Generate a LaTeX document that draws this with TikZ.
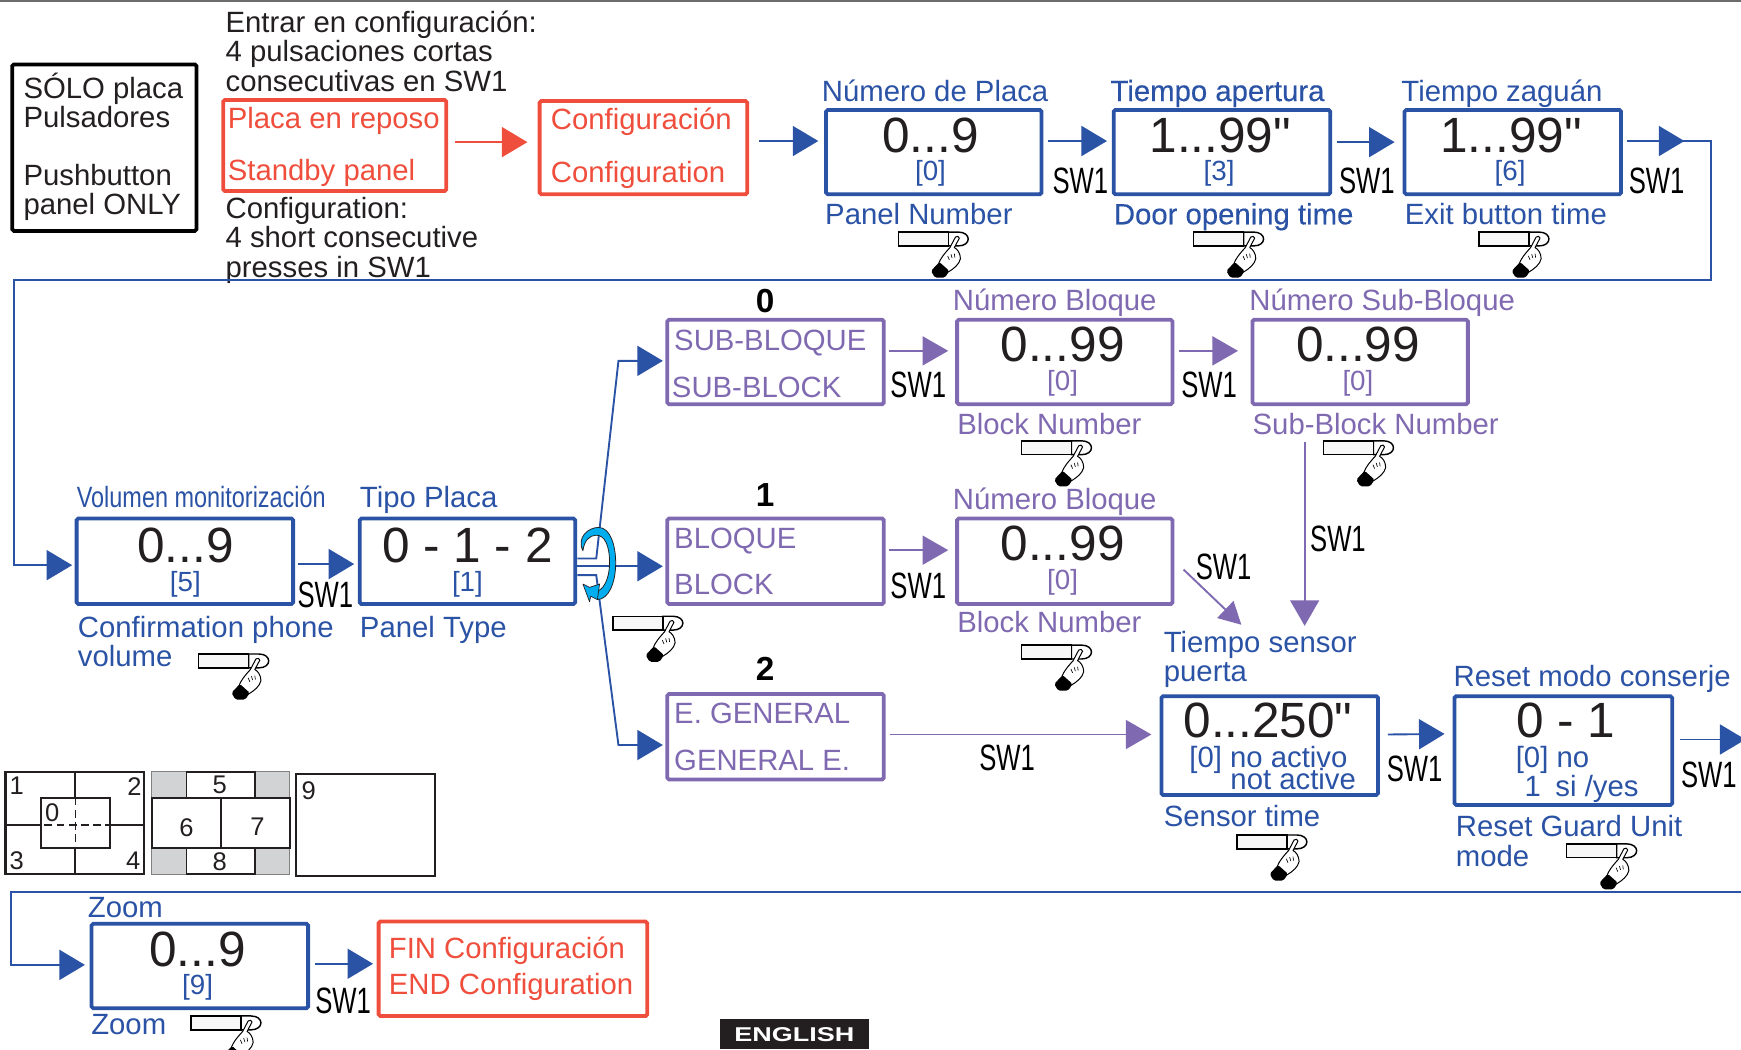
\documentclass[tikz,border=0pt]{standalone}
\usepackage{fontspec}
\setmainfont[Ligatures=TeXOff]{Liberation Sans}
\newfontfamily\swfont[FakeStretch=0.70]{Liberation Sans}
\newfontfamily\volfont[FakeStretch=0.80]{Liberation Sans}
\newfontfamily\engfont[FakeStretch=1.35]{Liberation Sans}
\newfontfamily\semibf[FakeBold=0.35]{Liberation Sans}
\usetikzlibrary{arrows.meta,calc}
\definecolor{bl}{HTML}{2A52A5}
\definecolor{rd}{HTML}{F04E3C}
\definecolor{pu}{HTML}{7F69B0}
\definecolor{cy}{HTML}{00AEEF}
\definecolor{ink}{HTML}{231F20}
\definecolor{gc}{HTML}{D1D3D4}
\tikzset{
 lbl/.style={anchor=base west,inner sep=0pt,font=\fontsize{26.4}{26.4}\selectfont},
 tbl/.style={lbl,text=bl},
 tpu/.style={lbl,text=pu},
 trd/.style={lbl,text=rd},
 tbk/.style={lbl,text=ink},
 big/.style={anchor=base,inner sep=0pt,text=ink,font=\fontsize{44.6}{44.6}\selectfont},
 def/.style={anchor=base,inner sep=0pt,font=\fontsize{25}{25}\selectfont},
 sw/.style={anchor=base,inner sep=0pt,text=black,font=\swfont\fontsize{33}{33}\selectfont},
 hd/.style={anchor=base,inner sep=0pt,text=black,font=\bfseries\fontsize{30}{30}\selectfont},
 scr/.style={anchor=center,inner sep=0pt,text=ink,font=\fontsize{23}{23}\selectfont},
 box/.style={draw,rectangle,rounded corners=1.5pt,line width=3.4pt,inner sep=0pt,outer sep=0pt},
 bbox/.style={box,draw=bl},
 pbox/.style={box,draw=pu},
 rbox/.style={box,draw=rd},
 ba/.style={draw=bl,line width=1.7pt,-{Triangle[length=23pt,width=27pt,color=bl]}},
 pa/.style={draw=pu,line width=1.7pt,-{Triangle[length=23pt,width=26pt,color=pu]}},
 ra/.style={draw=rd,line width=1.7pt,-{Triangle[length=23pt,width=27pt,color=rd]}},
 scrl/.style={draw=ink,line width=1.7pt},
 pushbtn/.pic={
  \draw[line width=1.3pt,fill=white] (45,0) -- (54,0) .. controls (66,0) and (66,12.5) .. (54,12.5) -- (45,12.5) -- cycle;
  \draw[line width=1.3pt,fill=gc!18] (0,0) rectangle (45,12.5);
  \draw[line width=.9pt,fill=white,line join=round] (51.5,4.5) .. controls (52.5,3.5) and (55,3.5) .. (55,5.5)
     -- (50.5,14) .. controls (53,15) and (56,19) .. (56,24) .. controls (55,29) and (50,33) .. (45,36)
     -- (36.5,28) .. controls (38,24) and (41,20) .. (46.5,14) -- cycle;
  \fill[black,rounded corners=1.5pt] (37,27) -- (46,35) -- (42,41) -- (33,41) -- (29.5,35) -- cycle;
  \draw[line width=.6pt] (47.5,20) -- (48.5,23.5) (50.5,19.5) -- (51,23) (44.5,21.5) -- (46,25);
 }
}
\begin{document}
\begin{tikzpicture}[x=1pt,y=-1pt]
\useasboundingbox (0,0) rectangle (1568,945);
\clip (0,0) rectangle (1568,945);
\fill[gray!85!black] (0,0) rectangle (1568,2);

% --- boxes
\node[box,draw=black,minimum width=166pt,minimum height=150pt] (only) at (94,133) {};
\node[rbox,minimum width=201pt,minimum height=82pt] (rest) at (301.5,131) {};
\node[rbox,minimum width=187pt,minimum height=84pt] (cfg) at (579.5,133) {};
\node[bbox,minimum width=194pt,minimum height=76pt] (n1) at (841,137) {};
\node[bbox,minimum width=195pt,minimum height=76pt] (n2) at (1100.5,137) {};
\node[bbox,minimum width=195pt,minimum height=76pt] (n3) at (1362.5,137) {};
\node[pbox,minimum width=195pt,minimum height=76pt] (sb) at (698.5,326) {};
\node[pbox,minimum width=194pt,minimum height=76pt] (b0) at (959,326) {};
\node[pbox,minimum width=194pt,minimum height=76pt] (sb0) at (1225,326) {};
\node[pbox,minimum width=195pt,minimum height=77pt] (bq) at (698.5,505.5) {};
\node[pbox,minimum width=194pt,minimum height=77pt] (b1) at (959,505.5) {};
\node[pbox,minimum width=195pt,minimum height=77pt] (eg) at (698.5,663.5) {};
\node[bbox,minimum width=195pt,minimum height=77pt] (vol) at (166.5,505.5) {};
\node[bbox,minimum width=194pt,minimum height=77pt] (tp) at (421,505.5) {};
\node[bbox,minimum width=195pt,minimum height=89pt] (sen) at (1143.5,671.5) {};
\node[bbox,minimum width=196pt,minimum height=98pt] (rs) at (1408,676) {};
\node[bbox,minimum width=195pt,minimum height=76pt] (zm) at (180,870) {};
\node[rbox,minimum width=242pt,minimum height=85pt] (fin) at (462,872.5) {};

% --- texts
\node[tbk] (t1) at (203,29) {Entrar en configuración:};
\node[tbk] (t2) at (203,55) {4 pulsaciones cortas};
\node[tbk] (t3) at (203,82) {consecutivas en SW1};
\node[tbk] (t4) at (203,197) {Configuration:};
\node[tbk] (t5) at (203,223) {4 short consecutive};
\node[tbk] (t6) at (203,250) {presses in SW1};
\node[tbk] (o1) at (21,89) {SÓLO placa};
\node[tbk] (o2) at (21,115) {Pulsadores};
\node[tbk] (o3) at (21,167) {Pushbutton};
\node[tbk] (o4) at (21,193) {panel ONLY};
\node[trd] (r1) at (205,116) {Placa en reposo};
\node[trd] (r2) at (205,163) {Standby panel};
\node[trd] (c1t) at (496,117) {Configuración};
\node[trd] (c2t) at (496,164) {Configuration};

\node[tbl] (n1a) at (740,91) {Número de Placa};
\node[tbl,font=\semibf\fontsize{26.4}{26.4}\selectfont] (n2a) at (1000,91) {Tiempo apertura};
\node[tbl] (n3a) at (1262,91) {Tiempo zaguán};
\node[tbl] (n1b) at (743,202) {Panel Number};
\node[tbl,font=\semibf\fontsize{26.4}{26.4}\selectfont] (n2b) at (1003,202) {Door opening time};
\node[tbl] (n3b) at (1265,202) {Exit button time};
\node[big] (n1v) at (838,137) {0...9};
\node[big] (n2v) at (1099,137) {1...99"};
\node[big] (n3v) at (1361,137) {1...99"};
\node[def,text=bl] (n1d) at (838,163) {[0]};
\node[def,text=bl] (n2d) at (1098,163) {[3]};
\node[def,text=bl] (n3d) at (1360,163) {[6]};

\node[hd] (h0) at (689,281) {0};
\node[hd] (h1) at (689,456) {1};
\node[hd] (h2) at (689,613) {2};
\node[tpu] (sb1) at (607,316) {SUB-BLOQUE};
\node[tpu] (sb2) at (605,358) {SUB-BLOCK};
\node[tpu] (bq1) at (607,494) {BLOQUE};
\node[tpu] (bq2) at (607,535) {BLOCK};
\node[tpu] (eg1) at (607,652) {E. GENERAL};
\node[tpu] (eg2) at (607,694) {GENERAL E.};
\node[tpu] (b0a) at (858,280) {Número Bloque};
\node[tpu] (sb0a) at (1125,280) {Número Sub-Bloque};
\node[tpu] (b0b) at (862,391) {Block Number};
\node[tpu] (sb0b) at (1128,391) {Sub-Block Number};
\node[tpu] (b1a) at (858,459) {Número Bloque};
\node[tpu] (b1b) at (862,570) {Block Number};
\node[big] (b0v) at (957,326) {0...99};
\node[big] (sb0v) at (1223,326) {0...99};
\node[big] (b1v) at (957,505) {0...99};
\node[def,text=pu] (b0d) at (957,352) {[0]};
\node[def,text=pu] (sb0d) at (1223,352) {[0]};
\node[def,text=pu] (b1d) at (957,531) {[0]};

\node[lbl,text=bl,font=\volfont\fontsize{26.4}{26.4}\selectfont] (vola) at (69,457) {Volumen monitorización};
\node[tbl] (volb) at (70,574) {Confirmation phone};
\node[tbl] (volc) at (70,600) {volume};
\node[tbl] (tpa) at (324,457) {Tipo Placa};
\node[tbl] (tpb) at (324,574) {Panel Type};
\node[big] (volv) at (167,507) {0...9};
\node[big] (tpv) at (421,507) {0 - 1 - 2};
\node[def,text=bl] (vold) at (167,533) {[5]};
\node[def,text=bl] (tpd) at (421,533) {[1]};

\node[tbl] (sena) at (1048,588) {Tiempo sensor};
\node[tbl] (senb) at (1048,614) {puerta};
\node[big] (senv) at (1142,664) {0...250"};
\node[lbl,text=bl] (send) at (1071,691) {[0] no activo};
\node[lbl,text=bl] (sene) at (1108,711) {not active};
\node[tbl] (senc) at (1048,744) {Sensor time};
\node[tbl] (rsa) at (1309,618) {Reset modo conserje};
\node[big] (rsv) at (1410,664) {0 - 1};
\node[lbl,text=bl] (rsd) at (1365,691) {[0] no};
\node[lbl,text=bl] (rse) at (1373,717) {1\hspace{13pt}si /yes};
\node[tbl] (rsb) at (1311,753) {Reset Guard Unit};
\node[tbl] (rsc) at (1311,780) {mode};

\node[tbl] (zma) at (79,826) {Zoom};
\node[tbl] (zmb) at (82,932) {Zoom};
\node[big] (zmv) at (178,870) {0...9};
\node[def,text=bl] (zmd) at (178,896) {[9]};
\node[trd] (f1) at (350,863) {FIN Configuración};
\node[trd] (f2) at (350,896) {END Configuration};

\node[sw] (s1) at (973,174) {SW1};
\node[sw] (s2) at (1231,174) {SW1};
\node[sw] (s3) at (1492,174) {SW1};
\node[sw] (s4) at (827,358) {SW1};
\node[sw] (s5) at (1089,358) {SW1};
\node[sw] (s6) at (293,547) {SW1};
\node[sw] (s7) at (827,539) {SW1};
\node[sw] (s8) at (1102,522) {SW1};
\node[sw] (s9) at (1205,497) {SW1};
\node[sw] (s10) at (907,694) {SW1};
\node[sw] (s11) at (1274,704) {SW1};
\node[sw] (s12) at (1539,709) {SW1};
\node[sw] (s13) at (309,913) {SW1};

\node[fill=ink,text=white,inner sep=0pt,minimum width=135pt,minimum height=27pt,font=\engfont\bfseries\fontsize{18}{18}\selectfont] (eng) at (715.5,931.5) {ENGLISH};

% --- connectors
\draw[ra] ($(rest.east)+(8,-3)$) -- ($(cfg.west)+(-11,-5)$);
\draw[ba] ($(cfg.east)+(11,-6)$) -- ($(n1.west)+(-7,-10)$);
\draw[ba] ($(n1.east)+(6,-10)$) -- ($(n2.west)+(-6,-10)$);
\draw[ba] ($(n2.east)+(6,-9)$) -- ($(n3.west)+(-9,-9)$);
\coordinate (w1) at (1541,127);
\coordinate (w2) at (1541,252);
\coordinate (w3) at (13,252);
\coordinate (w4) at (13,509);
\draw[ba] ($(n3.east)+(5,-10)$) -- ($(n3.east)+(57,-10)$);
\draw[ba] ($(n3.east)+(50,-10)$) -- (w1) -- (w2) -- (w3) -- (w4) -- ($(vol.west)+(-4,3.5)$);
\draw[ba] ($(vol.east)+(4,2.5)$) -- ($(tp.west)+(-5,2.5)$);

\coordinate (f0) at (520,503);
\coordinate (f1k) at (537,503);
\coordinate (f2k) at (557,325);
\coordinate (g0) at (520,518);
\coordinate (g1) at (537,518);
\coordinate (g2) at (557,671);
\draw[ba] (f0) -- (f1k) -- (f2k) -- ($(sb.west)+(-4,-1)$);
\draw[ba] (g0) -- (g1) -- (g2) -- ($(eg.west)+(-4,7.5)$);
\draw[ba] ($(tp.east)+(2,4.5)$) -- ($(bq.west)+(-4,4.5)$);

% rotating arrow
\path[fill=cy,draw=ink,line width=.7pt,line join=round] (525,496) .. controls (519,484) and (530,475) .. (539,475)
  .. controls (550,475) and (554.5,492) .. (554.5,507)
  .. controls (554.5,525) and (548,540) .. (538,540)
  -- (535,533)
  .. controls (544,533) and (549,520) .. (549,507)
  .. controls (549,492) and (545,482) .. (537,482)
  .. controls (531,482) and (526,487) .. (525,496) -- cycle;
\path[fill=cy,draw=ink,line width=.6pt,line join=round] (525,526) -- (531,529) -- (540,526) -- (538,540) -- (532,537) -- (531,542) -- cycle;

\draw[pa] ($(sb.east)+(5,-10)$) -- ($(b0.west)+(-8,-10)$);
\draw[pa] ($(b0.east)+(6,-10)$) -- ($(sb0.west)+(-13,-10)$);
\draw[pa] ($(bq.east)+(5,-10)$) -- ($(b1.west)+(-8,-10)$);
\coordinate (dg) at (1066,513);
\coordinate (vt) at (1175,398);
\draw[draw=pu,line width=1.7pt,-{Triangle[length=20pt,width=21pt,color=pu]}] (dg) -- ($(sena.north west)+(70,-6)$);
\draw[pa] (vt) -- ($(sena.north west)+(127,-5)$);
\draw[pa] ($(eg.east)+(6,-2)$) -- ($(sen.west)+(-9,-10)$);
\draw[ba] ($(sen.east)+(9,-10)$) -- ($(rs.west)+(-9,-15)$);
\coordinate (rx) at (1572,666);
\draw[ba] ($(rs.east)+(7,-10)$) -- (rx);
\coordinate (z0) at (1568,803);
\coordinate (z1) at (10,803);
\coordinate (z2) at (10,869);
\draw[ba] (z0) -- (z1) -- (z2) -- ($(zm.west)+(-6,-1)$);
\draw[ba] ($(zm.east)+(6,-2)$) -- ($(fin.west)+(-5,-4.5)$);

% --- hands
\foreach \hx/\hy/\hn in {809/209/a,1075/209/b,1332/209/c,920/397/d,1192/397/e,179/589/f,552/555/g,920/581/h,1114/752/i,1411/760/j,172/915/k}
  \pic (p\hn) at (\hx,\hy) {pushbtn};

% --- screen layouts
\draw[scrl,line width=2pt] (5,695) rectangle (130,787);
\draw[scrl] (67.6,695) -- (67.6,718.4) (67.6,764) -- (67.6,787) (5,743) -- (36.6,743) (99,743) -- (130,743);
\draw[scrl] (36.6,718.4) rectangle (99,764);
\draw[draw=ink,line width=1pt,dash pattern=on 7pt off 4pt] (40,743) -- (99,743) (67.6,718.4) -- (67.6,764);
\node[scr] (l1) at (15,708) {1};
\node[scr] (l2) at (121,708) {2};
\node[scr] (l3) at (15,775) {3};
\node[scr] (l4) at (120,775) {4};
\node[scr] (l0) at (47,732) {0};

\fill[gc] (136.6,695) rectangle (261,787);
\draw[gray,line width=.6pt] (136.6,695) rectangle (261,787);
\draw[scrl,fill=white] (168,695) rectangle (229.7,718.7);
\draw[scrl,fill=white] (168,764) rectangle (229.7,787);
\draw[scrl,fill=white] (136.6,718.7) rectangle (261,764);
\draw[scrl] (198.8,718.7) -- (198.8,764);
\node[scr] (l5) at (198,707) {5};
\node[scr] (l6) at (168,745) {6};
\node[scr] (l7) at (232,745) {7};
\node[scr] (l8) at (198,776) {8};

\draw[scrl,line width=2pt] (266.3,697) rectangle (391.8,788.7);
\node[scr] (l9) at (278,712) {9};
\end{tikzpicture}
\end{document}
